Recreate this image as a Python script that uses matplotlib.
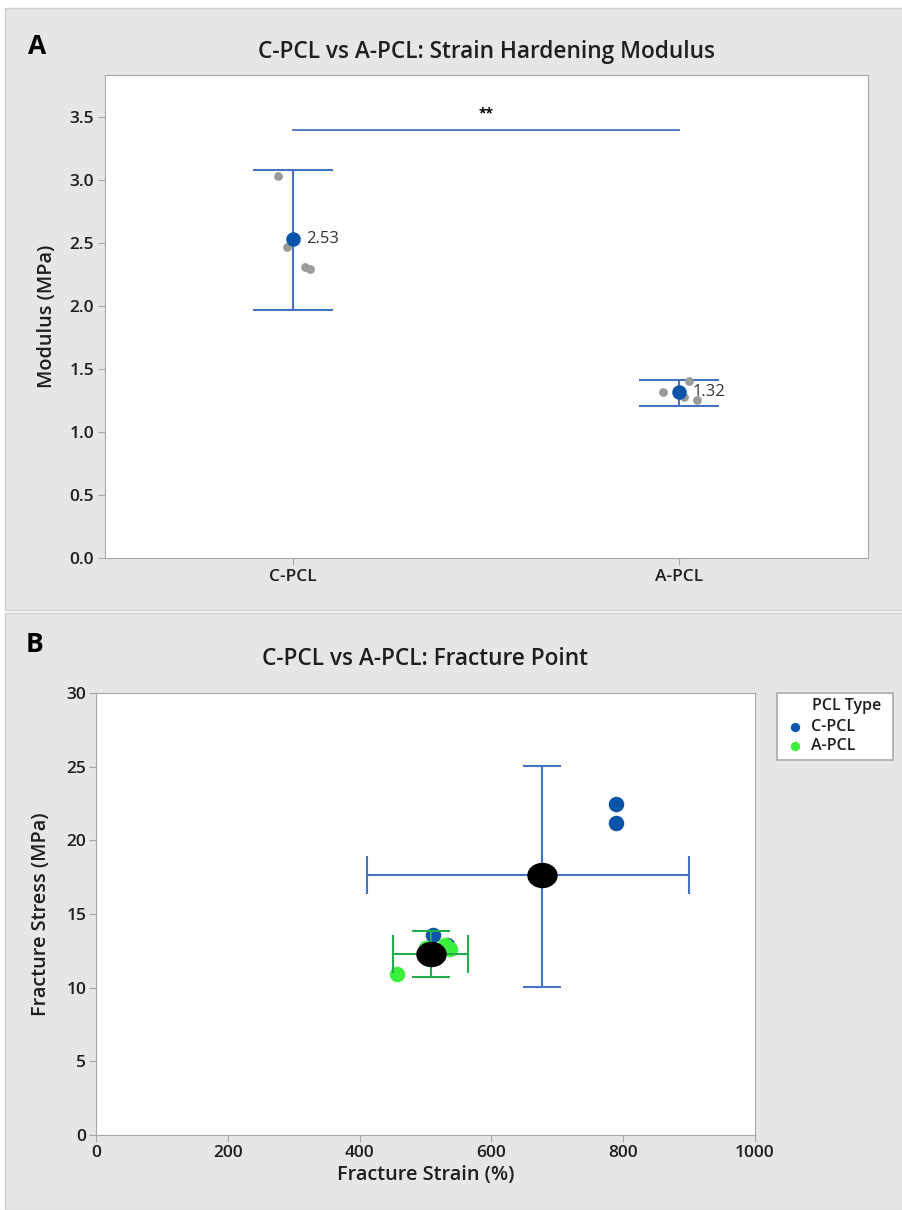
import numpy as np
import matplotlib
matplotlib.use("Agg")
import matplotlib.pyplot as plt
from matplotlib.patches import Rectangle
from matplotlib.path import Path

plt.rcParams['font.family'] = ['Open Sans', 'DejaVu Sans']

# ---------------- Panel A data ----------------
groups = ["C-PCL", "A-PCL"]
mod_means = [2.53, 1.32]
mod_ci_low = [1.965, 1.205]
mod_ci_high = [3.08, 1.415]
cpcl_mod_x = [-0.04, -0.015, 0.03, 0.045]
cpcl_mod = [3.03, 2.47, 2.31, 2.29]
apcl_mod_x = [-0.04, 0.025, 0.012, 0.047]
apcl_mod = [1.32, 1.40, 1.28, 1.25]
sig_y = 3.39
sig_text = "**"

# ---------------- Panel B data ----------------
cpcl_strain = [789, 789, 511, 532]
cpcl_stress = [22.45, 21.15, 13.6, 12.9]
apcl_strain = [456, 500, 537, 530]
apcl_stress = [10.9, 12.7, 12.6, 12.9]
mean_strain = [677, 508]
mean_stress = [17.65, 12.3]
strain_err_low = [266, 58]
strain_err_high = [223, 57]
stress_err_low = [7.6, 1.6]
stress_err_high = [7.4, 1.55]
legend_title = "PCL Type"

W, H = 903, 1210
fig = plt.figure(figsize=(W / 100, H / 100), dpi=100)
fig.patch.set_facecolor("white")

bg = "#e6e6e6"
fig.patches.append(Rectangle((5 / W, 1 - 610 / H), 1, 602 / H, transform=fig.transFigure,
                             facecolor=bg, edgecolor="#d0d0d0", lw=1, zorder=-10))
fig.patches.append(Rectangle((5 / W, 0), 1, 1 - 613 / H, transform=fig.transFigure,
                             facecolor=bg, edgecolor="#d0d0d0", lw=1, zorder=-10))

blue_line = "#4472c4"
blue_pt = "#0b55a8"
green_pt = "#3cef3c"
green_line = "#1fae4a"
spine_c = "#a6a6a6"
txt_c = "#1e1e1e"
TICK = 12.5
LAB = 14.3
TTL = 16.3

# ---------------- Panel A ----------------
axA = fig.add_axes([105 / W, 1 - 558 / H, 763 / W, 483 / H])
axA.set_facecolor("white")
xpos = np.arange(1, len(groups) + 1)
for i, x in enumerate(xpos):
    axA.errorbar([x], [mod_means[i]],
                 yerr=[[mod_means[i] - mod_ci_low[i]], [mod_ci_high[i] - mod_means[i]]],
                 fmt="none", ecolor=blue_line, elinewidth=1.5, capsize=29, capthick=1.5, zorder=2)
axA.scatter(1 + np.array(cpcl_mod_x), cpcl_mod, s=40, color="#9a9a9a", zorder=3, linewidths=0)
axA.scatter(2 + np.array(apcl_mod_x), apcl_mod, s=40, color="#9a9a9a", zorder=3, linewidths=0)
axA.scatter(xpos, mod_means, s=110, color=blue_pt, zorder=4, linewidths=0)
for i, x in enumerate(xpos):
    axA.text(x + 0.035, mod_means[i], f"{mod_means[i]:.2f}", fontsize=12, color="#333333",
             va="center", ha="left", zorder=5)
axA.plot([1, 2], [sig_y, sig_y], color=blue_line, lw=1.3)
axA.text(1.5, sig_y + 0.08, sig_text, ha="center", va="bottom", fontsize=10, fontweight="bold", color="black")
axA.set_xlim(0.513, 2.49)
axA.set_ylim(0, 3.83)
axA.set_xticks(xpos)
axA.set_xticklabels(groups)
axA.set_yticks(np.arange(0, 3.51, 0.5))
axA.set_yticklabels([f"{v:.1f}" for v in np.arange(0, 3.51, 0.5)])
axA.set_ylabel("Modulus (MPa)", fontsize=LAB, fontweight="semibold", color=txt_c, labelpad=9)
axA.set_title("C-PCL vs A-PCL: Strain Hardening Modulus", fontsize=TTL, fontweight="semibold",
              color=txt_c, pad=12)
for s in axA.spines.values():
    s.set_color(spine_c)
axA.tick_params(colors=spine_c, labelcolor=txt_c, labelsize=TICK, length=5, pad=3)
for lab in axA.get_xticklabels() + axA.get_yticklabels():
    lab.set_fontweight("semibold")

# ---------------- Panel B ----------------
axB = fig.add_axes([96 / W, 1 - 1135 / H, 659 / W, 442 / H])
axB.set_facecolor("white")
axB.scatter(cpcl_strain, cpcl_stress, s=125, marker="o", color=blue_pt, linewidths=0, zorder=3,
            label="C-PCL")
axB.scatter(apcl_strain, apcl_stress, s=125, marker="o", color=green_pt, linewidths=0, zorder=3,
            label="A-PCL")
ecols = [blue_line, green_line]
for i in range(len(mean_strain)):
    axB.errorbar([mean_strain[i]], [mean_stress[i]],
                 xerr=[[strain_err_low[i]], [strain_err_high[i]]],
                 yerr=[[stress_err_low[i]], [stress_err_high[i]]],
                 fmt="none", ecolor=ecols[i], elinewidth=1.5, capsize=14, capthick=1.5, zorder=4)
t = np.linspace(0, 2 * np.pi, 60)
ell = Path(np.column_stack([1.2 * np.cos(t), np.sin(t)]))
axB.scatter(mean_strain, mean_stress, s=480, marker=ell, color="black", linewidths=0, zorder=5)
axB.set_xlim(0, 1000)
axB.set_ylim(0, 30)
axB.set_xticks(np.arange(0, 1001, 200))
axB.set_yticks(np.arange(0, 31, 5))
axB.set_xlabel("Fracture Strain (%)", fontsize=LAB, fontweight="semibold", color=txt_c, labelpad=3)
axB.set_ylabel("Fracture Stress (MPa)", fontsize=LAB, fontweight="semibold", color=txt_c, labelpad=11)
axB.set_title("C-PCL vs A-PCL: Fracture Point", fontsize=TTL, fontweight="semibold", color=txt_c, pad=20)
for s in axB.spines.values():
    s.set_color(spine_c)
axB.tick_params(colors=spine_c, labelcolor=txt_c, labelsize=TICK, length=5, pad=2)
for lab in axB.get_xticklabels() + axB.get_yticklabels():
    lab.set_fontweight("semibold")

# legend box (frame + title drawn separately, entries from matplotlib legend)
axB.add_patch(Rectangle((777 / W, 1 - 760 / H), 116 / W, 67 / H, transform=fig.transFigure,
                        facecolor="white", edgecolor="#b0b0b0", lw=1.3, zorder=6, clip_on=False))
axB.text(812 / W, 1 - 706 / H, legend_title, fontsize=11.5, fontweight="semibold", color=txt_c,
         ha="left", va="center", zorder=7, transform=fig.transFigure, clip_on=False)
leg = axB.legend(loc="upper left", bbox_to_anchor=(789 / W, 1 - 719 / H), bbox_transform=fig.transFigure,
                 frameon=False, fontsize=11.5, markerscale=0.6, handletextpad=0.6, borderpad=0,
                 borderaxespad=0, labelspacing=0.2, handlelength=0.8)
leg.set_zorder(8)
for txt in leg.get_texts():
    txt.set_fontweight("semibold")
    txt.set_color(txt_c)

fig.text(37 / W, 1 - 46 / H, "A", fontsize=19, fontweight="bold", ha="center", va="center")
fig.text(35 / W, 1 - 645 / H, "B", fontsize=19, fontweight="bold", ha="center", va="center")

fig.savefig("out.png", dpi=100, facecolor=fig.get_facecolor())
